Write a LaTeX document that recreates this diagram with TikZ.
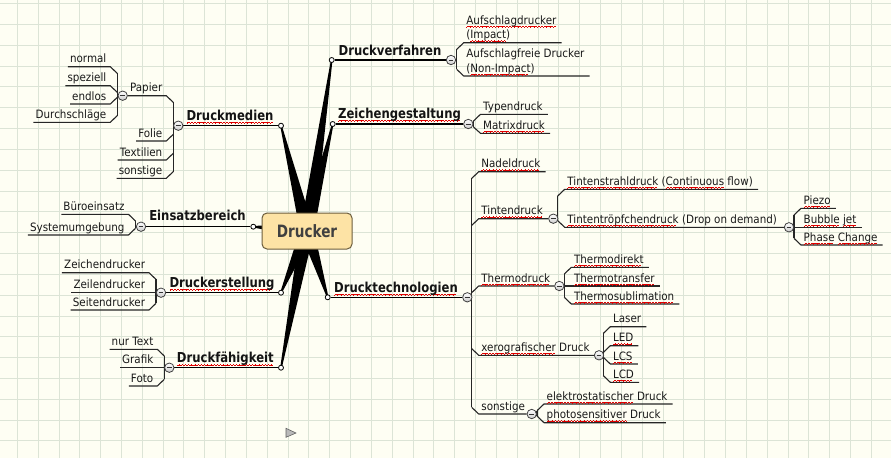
\documentclass[tikz,border=0pt]{standalone}
\usepackage{fontspec}
\setmainfont{DejaVu Sans}[FakeStretch=0.9]
\newfontfamily\topicfont{DejaVu Sans}[FakeStretch=0.85]
\newfontfamily\rootfont{DejaVu Sans}[FakeStretch=0.8]
\usetikzlibrary{calc}
\pgfdeclarelayer{back}
\pgfdeclarelayer{lines}
\pgfsetlayers{back,lines,main}
\definecolor{bgc}{HTML}{FEFEF3}
\definecolor{gridc}{HTML}{DCE4D6}
\definecolor{spellred}{HTML}{E00000}
\definecolor{boxfill}{HTML}{FDE3A5}
\definecolor{boxline}{HTML}{6D5E3E}
\newcommand\waveunit{\rule[-3.1pt]{0.8pt}{0.6pt}\rule[-2.6pt]{0.8pt}{0.6pt}\rule[-2.1pt]{0.8pt}{0.6pt}\rule[-2.6pt]{0.8pt}{0.6pt}}
\newcommand\spellw[1]{{\setbox0\hbox{#1}\rlap{\textcolor{spellred}{\leaders\hbox{\waveunit}\hskip\wd0}}\box0}}
\tikzset{
  gridln/.style={draw=gridc, line width=0.9pt},
  conn/.style={draw=black!85, line width=1.1pt, line join=round},
  mainln/.style={draw=black, line width=1.4pt},
  topic/.style={font=\topicfont\bfseries\fontsize{13.7}{15}\selectfont, text=black!92, inner sep=0pt, anchor=base},
  sub/.style={font=\fontsize{11.5}{14.7}\selectfont, text=black!90, inner sep=0pt, anchor=base west},
  lsub/.style={sub, anchor=base east},
  coll/.style={circle, draw=black!75, line width=0.8pt, top color=white, bottom color=black!20,
    minimum size=9.4pt, inner sep=0pt,
    path picture={\draw[line width=0.9pt, black!80]
      ($(path picture bounding box.center)+(-2.4pt,0pt)$) -- ($(path picture bounding box.center)+(2.4pt,0pt)$);}},
  anc/.style={circle, draw=black, fill=white, line width=0.8pt, minimum size=5pt, inner sep=0pt},
  rootbox/.style={draw=boxline, fill=boxfill, line width=1pt, rounded corners=5pt,
    minimum width=90pt, minimum height=36pt, inner sep=0pt,
    font=\rootfont\bfseries\fontsize{17}{20}\selectfont, text=black!75}
}
\newcommand\spoke[2]{\fill[black] ($(#1)!7pt!90:(#2)$) -- ($(#2)!0.8pt!-90:(#1)$) -- ($(#2)!0.8pt!90:(#1)$) -- ($(#1)!7pt!-90:(#2)$) -- cycle;}
% right child: name, vx, joint y, y, text
\newcommand\rch[5]{%
  \node[sub] (#1) at ({#2+9.5},{#4-4}) {#5};
  \begin{pgfonlayer}{lines}\draw[conn] (#2,#3) -- ({#2+7},#4) -- ($(#1.base east)+(5,4)$);\end{pgfonlayer}}
% right child that has children: ... , collapse node
\newcommand\rpar[6]{%
  \node[sub] (#1) at ({#2+9.5},{#4-4}) {#5};
  \begin{pgfonlayer}{lines}\draw[conn] (#2,#3) -- ({#2+7},#4) -- (#6);\end{pgfonlayer}}
\newcommand\lch[5]{%
  \node[lsub] (#1) at ({#2-10.8},{#4-4}) {#5};
  \begin{pgfonlayer}{lines}\draw[conn] (#2,#3) -- ({#2-7},#4) -- ($(#1.base west)+(-2,4)$);\end{pgfonlayer}}
\newcommand\lpar[6]{%
  \node[lsub] (#1) at ({#2-10.8},{#4-4}) {#5};
  \begin{pgfonlayer}{lines}\draw[conn] (#2,#3) -- ({#2-7},#4) -- (#6);\end{pgfonlayer}}
\newcommand\vbar[3]{\begin{pgfonlayer}{lines}\draw[conn] (#1,#2) -- (#1,#3);\end{pgfonlayer}}
\begin{document}
\begin{tikzpicture}[x=1pt,y=-1pt]
\useasboundingbox (0,0) rectangle (891,458);
\begin{pgfonlayer}{back}
\fill[bgc] (0,0) rectangle (891,458);
\foreach \i in {0,...,42} \draw[gridln] ({17.3+20.83*\i},0) -- ({17.3+20.83*\i},458);
\foreach \j in {0,...,21} \draw[gridln] (0,{3.5+20.83*\j}) -- (891,{3.5+20.83*\j});
\end{pgfonlayer}

% anchor points of main topics
\coordinate (c) at (307,231);
\coordinate (p-dv) at (331.7,60);
\coordinate (p-zg) at (332.7,124);
\coordinate (p-dt) at (327.7,297.3);
\coordinate (p-dm) at (281,125.7);
\coordinate (p-eb) at (253.3,226.7);
\coordinate (p-de) at (281,292.7);
\coordinate (p-df) at (281,367.7);
\begin{pgfonlayer}{back}
\foreach \t in {dv,zg,dt,dm,eb,de,df} {\spoke{c}{p-\t}}
\end{pgfonlayer}

\node[rootbox] (root) at (c) {Drucker};

% collapse circles
\node[coll] (c-dv) at (451,60) {};
\node[coll] (c-zg) at (468.3,124) {};
\node[coll] (c-dt) at (467.3,297.3) {};
\node[coll] (c-dm) at (178.3,125.7) {};
\node[coll] (c-eb) at (141,226.7) {};
\node[coll] (c-de) at (161,292.7) {};
\node[coll] (c-df) at (169.3,367.7) {};
\node[coll] (c-pa) at (122.7,95.7) {};
\node[coll] (c-td) at (553.3,218.7) {};
\node[coll] (c-tt) at (789,227.3) {};
\node[coll] (c-th) at (559.3,286) {};
\node[coll] (c-xd) at (599,355.3) {};
\node[coll] (c-so) at (531.7,414) {};

% anchor circles
\foreach \t in {dv,zg,dt,dm,eb,de,df} {\node[anc] (a-\t) at (p-\t) {};}

\begin{pgfonlayer}{lines}
\foreach \t in {dv,zg,dt,dm,eb,de,df} {\draw[mainln] (a-\t) -- (c-\t);}
\end{pgfonlayer}

% main topic texts
\node[topic] (t-dv) at (390,55) {Druckverfahren};
\node[topic] (t-zg) at (399.5,118) {\spellw{Zeichengestaltung}};
\node[topic] (t-dt) at (396,292.3) {\spellw{Drucktechnologien}};
\node[topic] (t-dm) at (230,120) {\spellw{Druckmedien}};
\node[topic] (t-eb) at (197.5,220.7) {Einsatzbereich};
\node[topic] (t-de) at (222,287.3) {\spellw{Druckerstellung}};
\node[topic] (t-df) at (225.3,362.7) {\spellw{Druckfähigkeit}};

% Druckverfahren
\rch{n-imp}{456.7}{49.4}{42.7}{\begin{tabular}[b]{@{}l@{}}\spellw{Aufschlagdrucker}\\(\spellw{Impact})\end{tabular}}
\rch{n-nimp}{456.7}{69.3}{76}{\begin{tabular}[b]{@{}l@{}}Aufschlagfreie Drucker\\(\spellw{Non-Impact})\end{tabular}}
\vbar{456.7}{49.4}{69.3}

% Zeichengestaltung
\rch{n-typ}{473.5}{121}{114.3}{Typendruck}
\rch{n-mat}{473.5}{127}{133.3}{\spellw{Matrixdruck}}
\vbar{473.5}{121}{127}

% Drucktechnologien
\rch{n-nad}{471.7}{178.4}{171.7}{\spellw{Nadeldruck}}
\rpar{n-tin}{471.7}{225.4}{218.7}{\spellw{Tintendruck}}{c-td}
\rpar{n-the}{471.7}{292.7}{286}{\spellw{Thermodruck}}{c-th}
\rpar{n-xer}{471.7}{348.6}{355.3}{\spellw{xerografischer} Druck}{c-xd}
\rpar{n-son}{471.7}{407.3}{414}{sonstige}{c-so}
\vbar{471.7}{178.4}{407.3}

% Tintendruck
\rch{n-tsd}{557.7}{196}{189.3}{\spellw{Tintenstrahldruck} (\spellw{Continuous} flow)}
\rpar{n-ttd}{557.7}{220.6}{227.3}{\spellw{Tintentröpfchendruck} (Drop on demand)}{c-tt}
\vbar{557.7}{196}{220.6}

% Tintentroepfchendruck
\rch{n-pie}{794}{215}{208.3}{\spellw{Piezo}}
\rch{n-bub}{794}{227.3}{227.3}{\spellw{Bubble} \spellw{jet}}
\rch{n-pha}{794}{238.3}{245}{\spellw{Phase} \spellw{Change}}
\vbar{794}{215}{238.3}

% Thermodruck
\rch{n-tdi}{564.3}{274}{267.3}{\spellw{Thermodirekt}}
\rch{n-ttr}{564.3}{286}{286}{\spellw{Thermotransfer}}
\rch{n-tsu}{564.3}{297.3}{304}{\spellw{Thermosublimation}}
\vbar{564.3}{274}{297.3}

% xerografischer Druck
\rch{n-las}{603.3}{333.4}{326.7}{Laser}
\rch{n-led}{603.3}{352.4}{345.7}{\spellw{LED}}
\rch{n-lcs}{603.3}{357.3}{364}{\spellw{LCS}}
\rch{n-lcd}{603.3}{375.6}{382.3}{\spellw{LCD}}
\vbar{603.3}{333.4}{375.6}

% sonstige
\rch{n-ele}{537}{410.7}{404}{\spellw{elektrostatischer} Druck}
\rch{n-pho}{537}{416}{422.7}{\spellw{photosensitiver} Druck}
\vbar{537}{410.7}{416}

% Druckmedien
\lpar{n-pap}{173.3}{102.4}{95.7}{Papier}{c-pa}
\lch{n-fol}{173.3}{134.3}{141}{Folie}
\lch{n-tex}{173.3}{153.3}{160}{Textilien}
\lch{n-sons}{173.3}{171.6}{178.3}{sonstige}
\vbar{173.3}{102.4}{171.6}

% Papier
\lch{n-nor}{117.3}{73.4}{66.7}{normal}
\lch{n-spe}{117.3}{92.4}{85.7}{speziell}
\lch{n-end}{117.3}{97.3}{104}{endlos}
\lch{n-dur}{117.3}{115.6}{122.3}{Durchschläge}
\vbar{117.3}{73.4}{115.6}

% Einsatzbereich
\lch{n-bue}{135.5}{221}{214.3}{Büroeinsatz}
\lch{n-sys}{135.5}{228.3}{235}{Systemumgebung}
\vbar{135.5}{221}{228.3}

% Druckerstellung
\lch{n-zd}{156}{279.4}{272.7}{Zeichendrucker}
\lch{n-zl}{156}{292.7}{292.7}{Zeilendrucker}
\lch{n-sd}{156}{303.3}{310}{Seitendrucker}
\vbar{156}{279.4}{303.3}

% Druckfaehigkeit
\lch{n-nt}{164.3}{356}{349.3}{nur Text}
\lch{n-gr}{164.3}{367.7}{367.7}{Grafik}
\lch{n-fo}{164.3}{379.3}{386}{Foto}
\vbar{164.3}{356}{379.3}

% small play marker
\filldraw[fill=gray!55, draw=gray!75!black, line width=0.6pt] (286,428.3) -- (286,437.3) -- (296,433) -- cycle;
\end{tikzpicture}
\end{document}
